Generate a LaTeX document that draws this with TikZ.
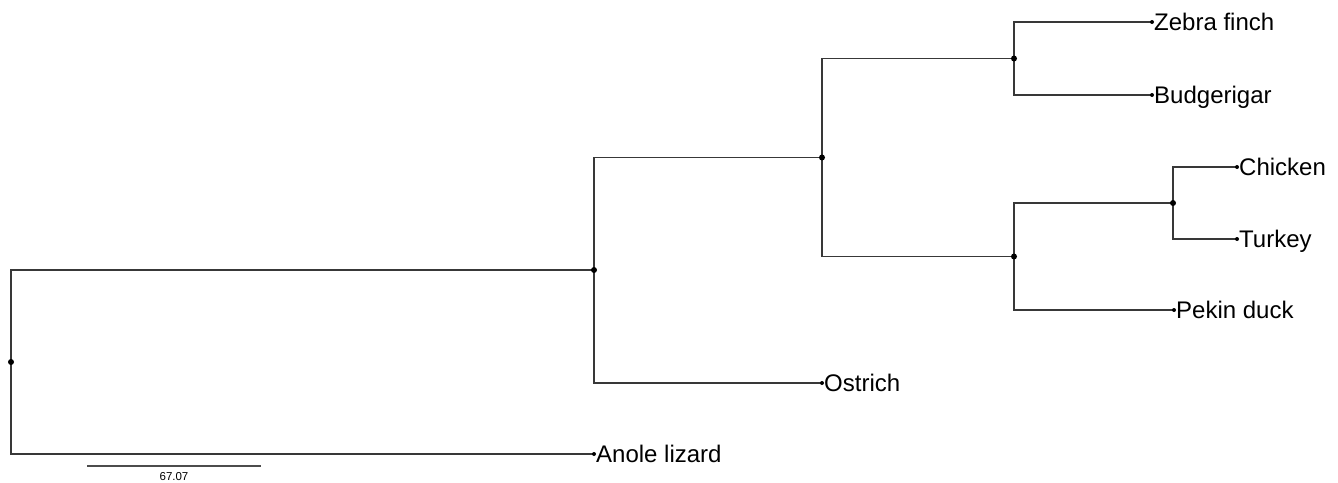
\documentclass[tikz,border=0pt]{standalone}
\usepackage{fontspec}
\setmainfont{Liberation Sans}
\begin{document}
\begin{tikzpicture}[x=1pt,y=-1pt,
  edge/.style={draw=black!78, line width=1.7pt},
  inner dot/.style={fill=black},
  leaf dot/.style={fill=black},
  taxon/.style={anchor=base west, inner xsep=2pt, inner ysep=0pt, yshift=-8.5pt, font=\fontsize{24}{28}\selectfont},
  scalebar/.style={draw=black!70, line width=1.3pt},
  scalelbl/.style={font=\fontsize{11.5}{13}\selectfont, inner sep=0pt}]
\useasboundingbox (0,0) rectangle (1338,482);
% internal nodes
\coordinate (root) at (11,362);
\coordinate (n1) at (594,270);
\coordinate (n2) at (822,157.5);
\coordinate (n3) at (1014,58.5);
\coordinate (n4) at (1014,256.5);
\coordinate (n5) at (1173,203);
% leaves
\coordinate (anole) at (594,454);
\coordinate (ostrich) at (822,383);
\coordinate (zebra) at (1152,22);
\coordinate (budg) at (1152,95);
\coordinate (chicken) at (1237,167);
\coordinate (turkey) at (1237,239);
\coordinate (pekin) at (1174,310);
% edges
\draw[edge] (root) |- (n1);
\draw[edge] (root) |- (anole);
\draw[edge] (n1) |- (n2);
\draw[edge] (n1) |- (ostrich);
\draw[edge] (n2) |- (n3);
\draw[edge] (n2) |- (n4);
\draw[edge] (n3) |- (zebra);
\draw[edge] (n3) |- (budg);
\draw[edge] (n4) |- (n5);
\draw[edge] (n4) |- (pekin);
\draw[edge] (n5) |- (chicken);
\draw[edge] (n5) |- (turkey);
% dots
\foreach \p in {root,n1,n2,n3,n4,n5} \fill[inner dot] (\p) circle (3);
\foreach \p in {anole,ostrich,zebra,budg,chicken,turkey,pekin} \fill[leaf dot] (\p) circle (2);
% labels
\node[taxon] (lanole) at (anole) {Anole lizard};
\node[taxon] (lostrich) at (ostrich) {Ostrich};
\node[taxon] (lzebra) at (zebra) {Zebra finch};
\node[taxon] (lbudg) at (budg) {Budgerigar};
\node[taxon] (lchicken) at (chicken) {Chicken};
\node[taxon] (lturkey) at (turkey) {Turkey};
\node[taxon] (lpekin) at (pekin) {Pekin duck};
% scale bar
\coordinate (sbl) at (87,466);
\coordinate (sbr) at (261,466);
\draw[scalebar] (sbl) -- (sbr);
\node[scalelbl] (sblab) at (174,476.5) {67.07};
\end{tikzpicture}
\end{document}
